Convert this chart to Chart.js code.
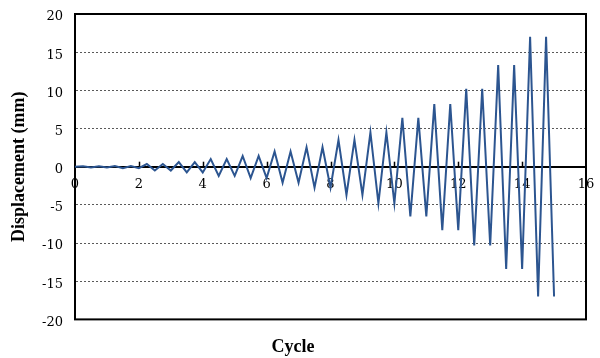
<!DOCTYPE html>
<html>
<head>
<meta charset="utf-8">
<script src="https://cdn.jsdelivr.net/npm/chart.js@4"></script>
<style>
    body { margin: 0; background: #fff; }
    canvas { display: block; }
</style>
</head>
<body>
<canvas id="myChart" width="600" height="358"></canvas>
<script>
// cycle number of each reversal point
const cycles = [0,
    0.25, 0.5, 0.75, 1, 1.25, 1.5, 1.75, 2, 2.25, 2.5, 2.75, 3,
    3.25, 3.5, 3.75, 4, 4.25, 4.5, 4.75, 5, 5.25, 5.5, 5.75, 6,
    6.25, 6.5, 6.75, 7, 7.25, 7.5, 7.75, 8, 8.25, 8.5, 8.75, 9,
    9.25, 9.5, 9.75, 10, 10.25, 10.5, 10.75, 11, 11.25, 11.5, 11.75, 12,
    12.25, 12.5, 12.75, 13, 13.25, 13.5, 13.75, 14, 14.25, 14.5, 14.75, 15];

// displacement (mm) at each reversal point
const displacement = [0,
    0.05, -0.1, 0.05, -0.1,
    0.1, -0.2, 0.1, -0.2,
    0.35, -0.5, 0.35, -0.5,
    0.6, -0.75, 0.6, -0.75,
    1.0, -1.2, 1.0, -1.2,
    1.4, -1.5, 1.4, -1.5,
    2.0, -2.1, 2.0, -2.1,
    2.55, -2.75, 2.55, -2.75,
    3.5, -3.7, 3.5, -3.7,
    4.5, -4.8, 4.5, -4.8,
    6.4, -6.5, 6.4, -6.5,
    8.2, -8.3, 8.2, -8.3,
    10.2, -10.3, 10.2, -10.3,
    13.3, -13.4, 13.3, -13.4,
    17.0, -17.0, 17.0, -17.0];

const xTickValues = [0, 2, 4, 6, 8, 10, 12, 14, 16];
const yTickValues = [-20, -15, -10, -5, 0, 5, 10, 15, 20];

const titleFont = "'Liberation Serif', 'Times New Roman', serif";
const tickFont = "'DejaVu Serif', serif";

// plot frame and the small upward ticks on the zero line
const framePlugin = {
    id: 'frame',
    beforeDatasetsDraw(chart) {
        const ctx = chart.ctx;
        const area = chart.chartArea;
        const xScale = chart.scales.x;
        const y0 = chart.scales.y.getPixelForValue(0);
        ctx.save();
        ctx.strokeStyle = '#000';
        ctx.lineWidth = 1.5;
        xTickValues.forEach(v => {
            if (v === 0 || v === 16) return;
            const px = Math.round(xScale.getPixelForValue(v)) + 0.5;
            ctx.beginPath();
            ctx.moveTo(px, y0);
            ctx.lineTo(px, y0 - 5);
            ctx.stroke();
        });
        ctx.lineWidth = 2;
        ctx.strokeRect(area.left, area.top, area.right - area.left, area.bottom - area.top);
        ctx.restore();
    }
};

const ctx = document.getElementById('myChart').getContext('2d');
const myChart = new Chart(ctx, {
    type: 'line',
    data: {
        datasets: [{
            data: cycles.map((c, i) => ({ x: c, y: displacement[i] })),
            borderColor: '#2c5590',
            borderWidth: 2,
            pointRadius: 0,
            tension: 0,
            fill: false
        }]
    },
    options: {
        responsive: false,
        animation: false,
        layout: { padding: { top: 14, right: 14, left: 0, bottom: 0 } },
        plugins: {
            legend: { display: false },
            tooltip: { enabled: false },
            title: {
                display: true,
                position: 'bottom',
                text: 'Cycle',
                color: '#000',
                font: { family: titleFont, size: 18, weight: 'bold' },
                padding: { top: 17, bottom: 0 }
            }
        },
        scales: {
            x: {
                type: 'linear',
                position: { y: 0 },
                min: 0,
                max: 16,
                afterBuildTicks: scale => {
                    scale.ticks = xTickValues.map(v => ({ value: v }));
                },
                afterFit: scale => {
                    scale.paddingLeft = 0;
                    scale.paddingRight = 0;
                },
                grid: { display: false, drawTicks: false },
                border: { display: true, color: '#000', width: 2 },
                ticks: {
                    color: '#000',
                    padding: 10,
                    maxRotation: 0,
                    font: { family: tickFont, size: 13 }
                }
            },
            y: {
                min: -20,
                max: 20,
                afterBuildTicks: scale => {
                    scale.ticks = yTickValues.map(v => ({ value: v }));
                },
                afterFit: scale => {
                    scale.width = 75;
                    scale.paddingTop = 0;
                    scale.paddingBottom = 0;
                },
                grid: { color: 'rgba(0,0,0,0.65)', lineWidth: 1, drawTicks: false },
                border: { display: true, color: '#000', width: 2, dash: [2, 2] },
                ticks: {
                    color: '#000',
                    padding: 12,
                    labelOffset: 3,
                    font: { family: tickFont, size: 13 }
                },
                title: {
                    display: true,
                    text: 'Displacement (mm)',
                    color: '#000',
                    font: { family: titleFont, size: 18, weight: 'bold' },
                    padding: { top: 9, bottom: 0 }
                }
            }
        }
    },
    plugins: [framePlugin]
});
</script>
</body>
</html>
